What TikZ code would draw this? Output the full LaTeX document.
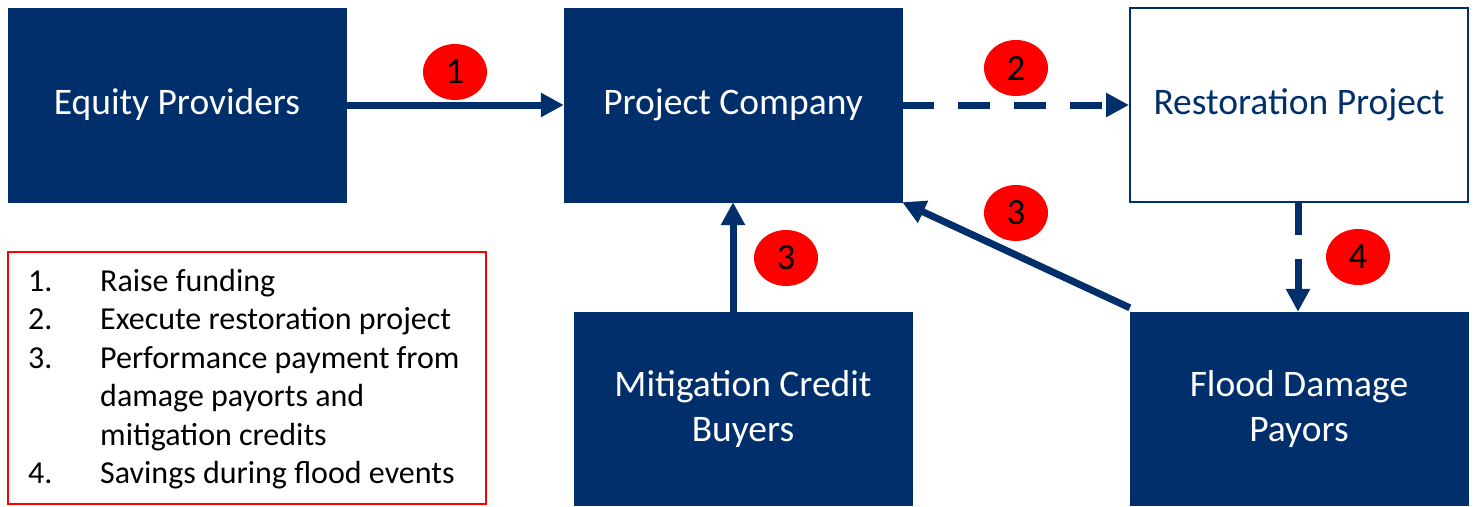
\documentclass[tikz,border=0pt]{standalone}
\usepackage{fontspec}
\setmainfont{Carlito}
\usetikzlibrary{arrows.meta,shapes.geometric}
\definecolor{navy}{RGB}{0,47,108}
\definecolor{badge}{RGB}{255,0,0}
\begin{document}
\begin{tikzpicture}[x=1pt,y=-1pt,
  darkbox/.style={rectangle,fill=navy,draw=navy,text=white,minimum width=338pt,minimum height=194pt,inner sep=0pt,align=center,font=\fontsize{37.5}{45}\selectfont},
  lightbox/.style={darkbox,fill=white,draw=navy,line width=2pt,text=navy},
  flow/.style={draw=navy,line width=7pt,-{Triangle[length=23pt,width=23pt]}},
  dashflow/.style={flow,dash pattern=on 32pt off 24pt},
  numbadge/.style={ellipse,fill=badge,minimum width=64pt,minimum height=56pt,inner sep=0pt,font=\fontsize{37}{40}\selectfont},
  ]
\useasboundingbox (0,0) rectangle (1474,506);
\node[darkbox] (eq) at (177,105) {Equity Providers};
\node[darkbox] (pc) at (733,105) {Project Company};
\node[lightbox] (rp) at (1299,105) {Restoration Project};
\node[darkbox,minimum height=193pt] (mc) at (743,408.5) {Mitigation Credit\\Buyers};
\node[darkbox,minimum height=193pt] (fd) at (1299,408.5) {Flood Damage\\Payors};

\draw[flow] (eq.east) -- (pc.west);
\draw[dashflow] (pc.east) -- (rp.west);
\draw[flow] (pc.south |- mc.north) -- (pc.south);
\draw[flow] ([yshift=4pt]fd.north west) -- (pc.south east);
\draw[dashflow] (rp.south -| 1298,0) -- (fd.north -| 1298,0);

\node[numbadge] (b1) at (455,72) {1};
\node[numbadge] (b2) at (1016,68) {2};
\node[numbadge] (b3a) at (1016,213) {3};
\node[numbadge] (b3b) at (786,258) {3};
\node[numbadge] (b4) at (1358,257) {4};

\node[draw=badge,line width=1.5pt,minimum width=478pt,minimum height=252pt,inner sep=0pt] (lg) at (247,378) {};
\node[anchor=north west,inner sep=0pt,font=\fontsize{32}{38.5}\selectfont,align=left] (lgt) at (28,264) {%
\begin{tabular}{@{}p{72pt}@{}l@{}}
1. & Raise funding\\
2. & Execute restoration project\\
3. & Performance payment from\\
   & damage payorts and\\
   & mitigation credits\\
4. & Savings during flood events
\end{tabular}};
\end{tikzpicture}
\end{document}
